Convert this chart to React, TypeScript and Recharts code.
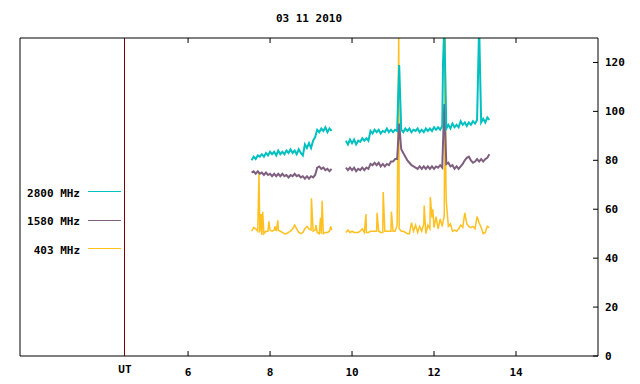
import React from 'react';
import { LineChart, Line, XAxis, YAxis, ReferenceLine, Legend } from 'recharts';

const TITLE = '03 11 2010';
const X_TICKS = [6, 8, 10, 12, 14];
const Y_TICKS = [0, 20, 40, 60, 80, 100, 120];
const X_DOMAIN = [1.9, 16];
const Y_DOMAIN = [0, 130];
const UT_POS = 4.46;
const UT_LABEL = 'UT';

const SEG1_START = 7.55;
const SEG2_START = 9.85;
const GAP_T = 9.7;
const STEP = 0.05;

// 2800 MHz (cyan)
const f2800Seg1 = [
  80, 81.5, 80.5, 82, 81.5, 82.5, 81.5, 83, 82, 83.5,
  82.5, 83.5, 82, 84, 82.5, 83.5, 82.5, 84, 83, 84.5,
  83, 84, 82.5, 84.5, 83, 82, 86.5, 85, 87, 85,
  88, 89.5, 92.5, 91.5, 93, 92, 93.5, 91.5, 93, 92,
];
const f2800Seg2 = [
  88, 86.5, 88.5, 87, 88.5, 86.5, 88, 87.5, 89, 88, 89, 88,
  92, 91, 92.5, 91.5, 92.5, 91, 92, 91.5, 93, 91.5, 92.5, 91.5, 92.5, 92,
  119,
  92.5, 91.5, 93, 92, 93, 91.5, 92.5, 92, 93, 91.5, 92.5, 91.5, 93, 92, 93, 92, 93.5, 92.5, 93.5, 92.5, 94,
  135,
  93, 94.5, 93, 95, 93.5, 94.5, 93.5, 96, 94.5, 95.5, 94, 95.5, 94.5, 96, 95, 96.5,
  135,
  95.5, 97, 95.5, 97.5, 96.5,
];
const f2800Spikes: [number, number][] = [[12.22, 120]];

// 1580 MHz (purple)
const f1580Seg1 = [
  75, 75.5, 74.5, 75.5, 74.5, 75, 74, 75, 74, 74.5,
  73.5, 74.5, 73.5, 74.5, 73.5, 74.5, 73.5, 74, 73, 74,
  73.5, 74.5, 73.5, 74, 73, 73.5, 72.5, 73.5, 72.5, 73.5,
  73, 74, 77, 77.5, 76.5, 77, 76, 76.5, 75.5, 76.5,
];
const f1580Seg2 = [
  77, 76, 77, 76, 77, 75.5, 76.5, 76, 77, 76, 77, 76.5,
  78.5, 78, 79, 78, 79, 77.5, 78.5, 77.5, 78.5, 78, 79.5, 79.5, 80.5, 80.5,
  95,
  84.5, 83, 81.5, 80, 79, 78, 77.5, 77, 76.5, 77.5, 76.5, 77.5, 76.5, 77.5, 76.5, 77.5, 76.5, 77.5, 77, 78, 77,
  103,
  78.5, 79, 77.5, 78, 76.5, 77.5, 76.5, 77.5, 78.5, 80, 81, 81.5, 80, 79, 79.5, 80.5, 79.5, 80.5, 79.5, 80.5, 81, 82.5,
];
const f1580Spikes: [number, number][] = [];

// 403 MHz (orange)
const f403Seg1 = [
  51, 52.5, 52, 51, 50.5, 49.5, 50, 51, 51, 51.5,
  51, 51.5, 51, 51.5, 51, 50.5, 50, 50, 50.5, 51,
  52, 53.5, 52, 50.5, 50, 50.5, 52, 53, 52, 51.5,
  51, 51.5, 50.5, 50, 50, 50, 50.5, 50.5, 51, 51.5,
];
const f403Seg2 = [
  50.5, 51.5, 50.5, 51, 50.5, 50.5, 50.5, 51, 52, 50.5, 50.5, 50.5,
  51, 51, 51, 51, 51, 50.5, 50.5, 51, 51, 51, 51, 51, 51, 53.5,
  52, 51, 51, 50.5, 50, 50, 54.5, 51, 53.5, 50.5, 53, 51, 54, 50, 53.5, 52, 56.5, 52.5, 57, 52, 56, 53,
  57.5, 63, 53, 54, 51, 51.5, 51, 52, 53.5, 52.5, 58.5, 54, 53, 52.5, 53, 52, 57, 54.5, 52.5, 50, 50.5, 53, 52.5,
];
const f403Spikes: [number, number][] = [
  [7.73, 75], [7.78, 58], [7.82, 59], [7.97, 55], [8.12, 53], [8.19, 55.5],
  [9.01, 64.5], [9.12, 53.5], [9.23, 56.5], [9.27, 63.5], [9.48, 53],
  [10.34, 58], [10.61, 58.5], [10.76, 67], [10.96, 59], [11.14, 135],
  [11.76, 61.5], [11.91, 65], [11.97, 60], [12.27, 135], [12.29, 70],
];

const SERIES = [
  { name: '2800 MHz', color: '#00c0c0', width: 2, seg1: f2800Seg1, seg2: f2800Seg2, spikes: f2800Spikes },
  { name: '1580 MHz', color: '#7f5f7f', width: 2, seg1: f1580Seg1, seg2: f1580Seg2, spikes: f1580Spikes },
  { name: '403 MHz', color: '#ffc020', width: 1.5, seg1: f403Seg1, seg2: f403Seg2, spikes: f403Spikes },
];

type Pt = { t: number; v: number | null };

function build(seg1: number[], seg2: number[], spikes: [number, number][]): Pt[] {
  const pts: Pt[] = [];
  seg1.forEach((v, i) => pts.push({ t: +(SEG1_START + i * STEP).toFixed(3), v }));
  pts.push({ t: GAP_T, v: null });
  seg2.forEach((v, i) => pts.push({ t: +(SEG2_START + i * STEP).toFixed(3), v }));
  spikes.forEach(([t, v]) => pts.push({ t, v }));
  pts.sort((a, b) => a.t - b.t);
  return pts;
}

const FONT = '"DejaVu Sans Mono", monospace';
const tickStyle = { fontFamily: FONT, fontSize: 11, fontWeight: 'bold' as const, fill: '#000' };

const LegendBox = () => (
  <svg width={125} height={80}>
    {SERIES.map((s, i) => (
      <g key={s.name}>
        <text
          x={80}
          y={14.5 + i * 28.6}
          textAnchor="end"
          fontFamily={FONT}
          fontSize={11}
          fontWeight="bold"
          fill="#000"
        >
          {s.name}
        </text>
        <line
          x1={88}
          x2={121}
          y1={9 + Math.round(i * 28.6)}
          y2={9 + Math.round(i * 28.6)}
          stroke={s.color}
          strokeWidth={1}
          shapeRendering="crispEdges"
        />
      </g>
    ))}
  </svg>
);

const EmptyTick = () => <g />;

export default function App() {
  const drawOrder = [SERIES[2], SERIES[1], SERIES[0]];
  return (
    <div style={{ position: 'absolute', left: 0, top: 0, width: 640, height: 384, background: '#fff' }}>
      <div
        style={{
          position: 'absolute',
          left: 20,
          width: 578,
          top: 12,
          textAlign: 'center',
          fontFamily: FONT,
          fontSize: 11,
          fontWeight: 'bold',
          lineHeight: '13px',
        }}
      >
        {TITLE}
      </div>
      <LineChart width={640} height={384} margin={{ top: 37, right: 0, bottom: 0, left: 19 }}>
        <XAxis
          xAxisId="b"
          dataKey="t"
          type="number"
          domain={X_DOMAIN}
          ticks={X_TICKS}
          allowDataOverflow
          height={28}
          stroke="#000"
          tickSize={-5}
          tickMargin={17.5}
          tick={tickStyle}
          tickLine={{ stroke: '#000' }}
          axisLine={{ stroke: '#000' }}
        />
        <XAxis
          xAxisId="top"
          orientation="top"
          dataKey="t"
          type="number"
          domain={X_DOMAIN}
          ticks={X_TICKS}
          allowDataOverflow
          height={1}
          stroke="#000"
          tickSize={-5}
          tick={EmptyTick}
          tickLine={{ stroke: '#000' }}
          axisLine={{ stroke: '#000' }}
        />
        <YAxis
          yAxisId="r"
          orientation="right"
          type="number"
          domain={Y_DOMAIN}
          ticks={Y_TICKS}
          allowDataOverflow
          width={42}
          stroke="#000"
          tickSize={-5}
          tickMargin={12}
          tick={tickStyle}
          tickLine={{ stroke: '#000' }}
          axisLine={{ stroke: '#000' }}
        />
        <YAxis
          yAxisId="l"
          orientation="left"
          type="number"
          domain={Y_DOMAIN}
          allowDataOverflow
          width={1}
          tick={false}
          tickLine={false}
          axisLine={{ stroke: '#000' }}
        />
        <ReferenceLine
          xAxisId="b"
          yAxisId="r"
          x={UT_POS}
          stroke="#7a0000"
          strokeWidth={1}
          shapeRendering="crispEdges"
          label={{ value: UT_LABEL, position: 'bottom', offset: 9, style: tickStyle }}
        />
        {drawOrder.map((s) => (
          <Line
            key={s.name}
            xAxisId="b"
            yAxisId="r"
            data={build(s.seg1, s.seg2, s.spikes)}
            dataKey="v"
            name={s.name}
            type="linear"
            stroke={s.color}
            strokeWidth={s.width}
            dot={false}
            activeDot={false}
            connectNulls={false}
            isAnimationActive={false}
          />
        ))}
        <Legend
          layout="vertical"
          align="center"
          verticalAlign="middle"
          content={LegendBox}
          wrapperStyle={{ left: 0, top: 182, width: 125, height: 80 }}
        />
      </LineChart>
    </div>
  );
}
